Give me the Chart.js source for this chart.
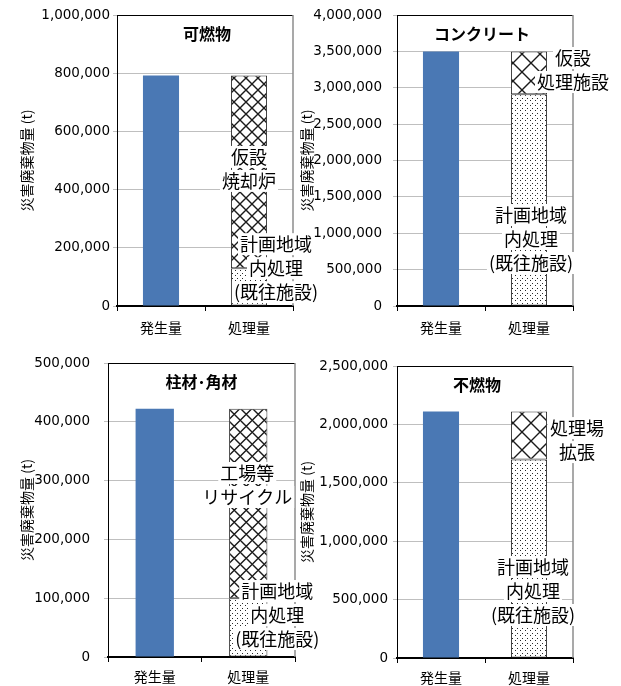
<!DOCTYPE html>
<html>
<head>
<meta charset="utf-8">
<script src="https://cdn.jsdelivr.net/npm/chart.js@4/dist/chart.umd.min.js"></script>
<style>
body { margin: 0; background: #fff; }
canvas { position: absolute; left: 0; top: 0; }
</style>
</head>
<body>
<canvas id="c1" width="621" height="686"></canvas>
<canvas id="c2" width="621" height="686"></canvas>
<canvas id="c3" width="621" height="686"></canvas>
<canvas id="c4" width="621" height="686"></canvas>
<script>
// data
var categories = ['発生量', '処理量'];
var yTitle = '災害廃棄物量 (t)';
var titles = ['可燃物', 'コンクリート', '柱材･角材', '不燃物'];
var generated = [792000, 3500000, 422000, 2110000];
var existingFacility = [130000, 2910000, 100000, 1700000];   // 計画地域内処理（既往施設）
var additional = [662000, 590000, 322000, 410000];          // 仮設・リサイクル・拡張 etc
var additionalLabels = [['仮設', '焼却炉'], ['仮設', '処理施設'], ['工場等', 'リサイクル'], ['処理場', '拡張']];
var existingLabel = ['計画地域', '内処理', '(既往施設)'];
var axisMax = [1000000, 4000000, 500000, 2500000];
var axisStep = [200000, 500000, 100000, 500000];

var JP = '"Noto Sans CJK JP", sans-serif';

// layout of each panel on the shared page
var panels = [
    {id: 'c1', pad: {left: 0, right: 328, top: 15, bottom: 340}, yWidth: 117, xHeight: 40, tickPad: 3, titlePad: 18.6, xPad: 8.6,
     hatch: 12, titleDx: 2, notes: [{dx: 0, y: 471000}, {dx: 27, y: 130000}]},
    {id: 'c2', pad: {left: 290, right: 48, top: 15, bottom: 340}, yWidth: 107, xHeight: 40, tickPad: 11, titlePad: 8.1, xPad: 8.6,
     hatch: 18, titleDx: -3, notes: [{dx: 44, y: 3244000}, {dx: 2, y: 921000}]},
    {id: 'c3', pad: {left: 0, right: 326, top: 363, bottom: 0}, yWidth: 108, xHeight: 29, tickPad: 14, titlePad: 18.6, xPad: 6.6,
     hatch: 12.5, titleDx: 0, notes: [{dx: -1, y: 292500}, {dx: 29, y: 71400}]},
    {id: 'c4', pad: {left: 290, right: 48, top: 366, bottom: 0}, yWidth: 107, xHeight: 28, tickPad: 5, titlePad: 8.6, xPad: 6.6,
     hatch: 18, titleDx: -8, notes: [{dx: 48, y: 1866000}, {dx: 4, y: 573600}]}
];

function makeCross(size) {
    var c = document.createElement('canvas');
    c.width = size; c.height = size;
    var g = c.getContext('2d');
    g.fillStyle = '#fff'; g.fillRect(0, 0, size, size);
    g.strokeStyle = '#1a1a1a'; g.lineWidth = 1.4;
    g.beginPath();
    g.moveTo(-2, -2); g.lineTo(size + 2, size + 2);
    g.moveTo(size + 2, -2); g.lineTo(-2, size + 2);
    g.stroke();
    return g.createPattern(c, 'repeat');
}

function makeDots() {
    var c = document.createElement('canvas');
    c.width = 5; c.height = 5;
    var g = c.getContext('2d');
    g.fillStyle = '#fff'; g.fillRect(0, 0, 5, 5);
    g.fillStyle = '#2a2a2a';
    g.fillRect(0, 0, 1, 1);
    g.fillRect(2, 3, 1, 1);
    return g.createPattern(c, 'repeat');
}

var dotFill = makeDots();

var frame = {
    id: 'frame',
    beforeDatasetsDraw: function(chart) {
        var a = chart.chartArea, ctx = chart.ctx;
        ctx.save();
        ctx.strokeStyle = '#000'; ctx.lineWidth = 1;
        ctx.beginPath(); ctx.moveTo(a.left, a.top + 0.5); ctx.lineTo(a.right, a.top + 0.5); ctx.stroke();
        ctx.strokeStyle = '#8c8c8c'; ctx.lineWidth = 1.5;
        ctx.beginPath(); ctx.moveTo(a.right, a.top); ctx.lineTo(a.right, a.bottom); ctx.stroke();
        ctx.restore();
    },
    afterDraw: function(chart, args, opts) {
        var a = chart.chartArea, ctx = chart.ctx;
        ctx.save();
        ctx.textAlign = 'center'; ctx.textBaseline = 'middle';
        ctx.font = 'bold 16px ' + JP;
        ctx.fillStyle = '#000';
        ctx.fillText(opts.title, (a.left + a.right) / 2 + opts.titleDx, a.top + 19);

        ctx.font = '18px ' + JP;
        var x0 = chart.scales.x.getPixelForValue(1);
        opts.notes.forEach(function(n) {
            var cx = x0 + n.dx, cy = chart.scales.y.getPixelForValue(n.y);
            n.lines.forEach(function(t, i) {
                var y = cy + (i - (n.lines.length - 1) / 2) * 24;
                var w = ctx.measureText(t).width;
                ctx.fillStyle = '#fff';
                ctx.fillRect(cx - w / 2 - 2, y - 11, w + 4, 22);
                ctx.fillStyle = '#000';
                ctx.fillText(t, cx, y);
            });
        });
        ctx.restore();
    }
};

panels.forEach(function(p, k) {
    new Chart(document.getElementById(p.id), {
        type: 'bar',
        data: {
            labels: categories,
            datasets: [
                {label: '発生量', data: [generated[k], null], backgroundColor: '#4a78b4', borderWidth: 0},
                {label: existingLabel.join(''), data: [null, existingFacility[k]], backgroundColor: dotFill,
                 borderColor: '#333', borderWidth: 1, borderSkipped: false},
                {label: additionalLabels[k].join(''), data: [null, additional[k]], backgroundColor: makeCross(p.hatch),
                 borderColor: '#333', borderWidth: 1, borderSkipped: false}
            ]
        },
        options: {
            responsive: false,
            animation: false,
            layout: {padding: p.pad},
            barPercentage: 0.41,
            categoryPercentage: 1,
            plugins: {
                legend: {display: false},
                tooltip: {enabled: false},
                frame: {
                    title: titles[k],
                    titleDx: p.titleDx,
                    notes: [
                        {dx: p.notes[0].dx, y: p.notes[0].y, lines: additionalLabels[k]},
                        {dx: p.notes[1].dx, y: p.notes[1].y, lines: existingLabel}
                    ]
                }
            },
            scales: {
                x: {
                    stacked: true,
                    afterFit: function(s) { s.height = p.xHeight; },
                    grid: {drawOnChartArea: false, drawTicks: true, tickLength: 5, color: '#000', offset: true},
                    border: {color: '#000', width: 2},
                    ticks: {color: '#000', padding: p.xPad, font: {family: JP, size: 14}}
                },
                y: {
                    stacked: true,
                    min: 0,
                    max: axisMax[k],
                    // fixed axis width; don't let tick padding push the plot top down
                    afterFit: function(s) { s.width = p.yWidth; s.paddingTop = 8; s.paddingBottom = 8; },
                    grid: {color: '#bfbfbf', tickLength: 4},
                    border: {color: '#000', width: 1},
                    ticks: {
                        stepSize: axisStep[k],
                        color: '#000',
                        padding: p.tickPad,
                        font: {family: '"DejaVu Sans", sans-serif', size: 13.5},
                        callback: function(v) { return v.toLocaleString('en-US'); }
                    },
                    title: {display: true, text: yTitle, color: '#000',
                            font: {family: JP, size: 14}, padding: {top: p.titlePad, bottom: 0}}
                }
            }
        },
        plugins: [frame]
    });
});
</script>
</body>
</html>
